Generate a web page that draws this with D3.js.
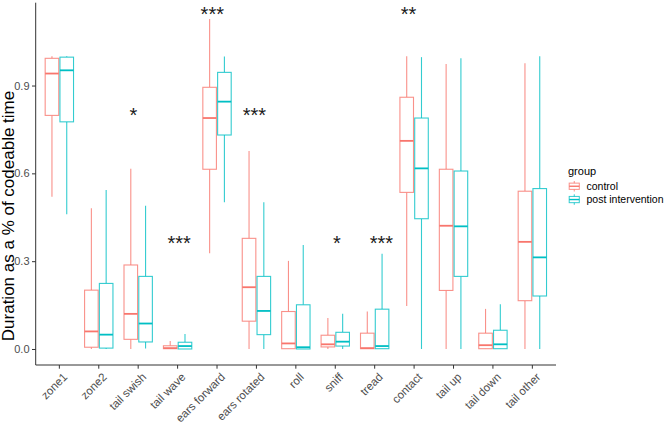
<!DOCTYPE html>
<html><head><meta charset="utf-8">
<script src="https://cdn.jsdelivr.net/npm/d3@7"></script>
<style>body{margin:0;background:#fff;} svg{display:block;font-family:"Liberation Sans",Arial,sans-serif;}</style>
</head><body>
<svg id="chart" width="669" height="423"></svg>
<script>
const categories = ["zone1","zone2","tail swish","tail wave","ears forward","ears rotated","roll","sniff","tread","contact","tail up","tail down","tail other"];
const groups = ["control","post intervention"];
const colors = ["#F8766D","#00BFC4"];

const controlMin = [0.520,0.000,0.000,0.000,0.327,0.000,0.000,0.000,0.000,0.147,0.000,0.000,0.000];
const controlQ1  = [0.798,0.006,0.033,0.001,0.614,0.095,0.001,0.007,0.001,0.535,0.200,0.001,0.165];
const controlMed = [0.941,0.060,0.120,0.003,0.789,0.211,0.019,0.016,0.003,0.711,0.421,0.013,0.366];
const controlQ3  = [0.993,0.201,0.287,0.011,0.894,0.378,0.128,0.047,0.054,0.860,0.614,0.054,0.539];
const controlMax = [1.000,0.481,0.616,0.027,1.127,0.676,0.301,0.106,0.128,1.000,0.974,0.137,0.976];

const postMin = [0.460,0.000,0.002,0.000,0.501,0.000,0.000,0.000,0.000,0.000,0.000,0.000,0.000];
const postQ1  = [0.776,0.003,0.024,0.000,0.731,0.049,0.000,0.010,0.001,0.445,0.248,0.001,0.181];
const postMed = [0.952,0.049,0.087,0.010,0.845,0.130,0.006,0.025,0.010,0.617,0.419,0.016,0.313];
const postQ3  = [0.997,0.224,0.248,0.023,0.945,0.248,0.151,0.057,0.136,0.789,0.608,0.064,0.548];
const postMax = [1.000,0.543,0.489,0.051,0.999,0.501,0.355,0.120,0.325,0.997,0.993,0.153,1.000];

const yTicks = [0.0,0.3,0.6,0.9];
const starLabels = ["*","***","***","***","*","***","**"];
const starX = [1.88,3.04,3.88,4.95,7.04,8.17,8.86];
const starY = [0.814,0.375,1.158,0.814,0.375,0.375,1.158];

const svg = d3.select("#chart");
const L = 35.7, R = 556, T = 2.7, B = 365;

const x = d3.scaleBand().domain(categories).range([L,R]).paddingOuter(0.1).paddingInner(0);
const xi = d3.scaleLinear().domain([0, categories.length-1]).range([x(categories[0])+x.bandwidth()/2, x(categories[categories.length-1])+x.bandwidth()/2]);
const y = d3.scaleLinear().domain([-0.0547,1.183]).range([B,T]);

const stats = [
  categories.map((c,i)=>({c,g:0,min:controlMin[i],q1:controlQ1[i],med:controlMed[i],q3:controlQ3[i],max:controlMax[i]})),
  categories.map((c,i)=>({c,g:1,min:postMin[i],q1:postQ1[i],med:postMed[i],q3:postQ3[i],max:postMax[i]}))
].flat();

const dodge = x.bandwidth()*0.75;
const bw = dodge/2;
const cx = d => x(d.c) + x.bandwidth()/2 - dodge/2 + bw*d.g + bw/2;

const gB = svg.append("g");
const b = gB.selectAll("g.box").data(stats).join("g").attr("class","box");
b.append("line").attr("x1",cx).attr("x2",cx).attr("y1",d=>y(d.max)).attr("y2",d=>y(d.q3))
  .attr("stroke",d=>colors[d.g]).attr("stroke-width",1.1).attr("stroke-opacity",0.8);
b.append("line").attr("x1",cx).attr("x2",cx).attr("y1",d=>y(d.q1)).attr("y2",d=>y(d.min))
  .attr("stroke",d=>colors[d.g]).attr("stroke-width",1.1).attr("stroke-opacity",0.8);
b.append("rect").attr("x",d=>cx(d)-bw/2+0.6).attr("width",bw-1.2)
  .attr("y",d=>y(d.q3)).attr("height",d=>Math.max(0.01,y(d.q1)-y(d.q3)))
  .attr("fill","#fff").attr("stroke",d=>colors[d.g]).attr("stroke-width",1.1).attr("stroke-opacity",0.8);
b.append("line").attr("x1",d=>cx(d)-bw/2+0.6).attr("x2",d=>cx(d)+bw/2-0.6).attr("y1",d=>y(d.med)).attr("y2",d=>y(d.med))
  .attr("stroke",d=>colors[d.g]).attr("stroke-width",1.8);

const ya = svg.append("g").attr("transform",`translate(${L},0)`)
  .call(d3.axisLeft(y).tickValues(yTicks).tickFormat(d3.format(".1f")).tickSize(3.7).tickPadding(2.5));
ya.select(".domain").attr("d",`M0,${T}V${B}`).attr("stroke","#333").attr("stroke-width",1);
ya.selectAll(".tick line").attr("stroke","#333");
ya.selectAll(".tick text").attr("fill","#4D4D4D").style("font-size","11px").style("font-family","Liberation Sans, Arial, sans-serif");

const xa = svg.append("g").attr("transform",`translate(0,${B})`)
  .call(d3.axisBottom(x).tickSize(3.7).tickSizeOuter(0));
xa.select(".domain").attr("d",`M${L},0H${R}`).attr("stroke","#333").attr("stroke-width",1);
xa.selectAll(".tick line").attr("stroke","#333");
xa.selectAll(".tick text").attr("fill","#4D4D4D").style("font-size","11.5px").style("font-family","Liberation Sans, Arial, sans-serif")
  .attr("text-anchor","end").attr("y",0)
  .attr("transform","translate(3,7) rotate(-45)").attr("dy","0.71em");

svg.append("text").attr("transform",`translate(14,216) rotate(-90)`)
  .attr("text-anchor","middle").style("font-size","17px").attr("fill","#000")
  .text("Duration as a % of codeable time");

svg.append("g").selectAll("text").data(starLabels).join("text")
  .attr("x",(d,i)=>xi(starX[i])).attr("y",(d,i)=>y(starY[i])+11)
  .attr("text-anchor","middle").style("font-size","20px").attr("fill","#1a1a1a").text(d=>d);

const lg = svg.append("g").attr("transform","translate(568,0)");
lg.append("text").attr("x",0).attr("y",174.5).style("font-size","11px").attr("fill","#000").text("group");
groups.forEach((g,i)=>{
  const ky = 180 + i*13.3;
  const k = lg.append("g").attr("transform",`translate(0,${ky})`);
  const s = 12.5;
  k.append("line").attr("x1",s/2).attr("x2",s/2).attr("y1",1).attr("y2",s-1).attr("stroke",colors[i]).attr("stroke-opacity",0.8);
  k.append("rect").attr("x",1.2).attr("y",s*0.25).attr("width",s-2.4).attr("height",s*0.5).attr("fill","#fff").attr("stroke",colors[i]).attr("stroke-opacity",0.8);
  k.append("line").attr("x1",1.2).attr("x2",s-1.2).attr("y1",s/2).attr("y2",s/2).attr("stroke",colors[i]).attr("stroke-width",1.4);
  lg.append("text").attr("x",18.5).attr("y",ky+s/2).attr("dy","0.35em").style("font-size","10.5px").attr("fill","#000").text(g);
});
</script>
</body></html>
